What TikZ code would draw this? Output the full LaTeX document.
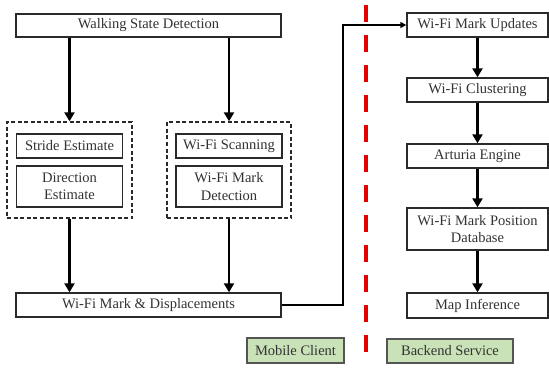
\documentclass[tikz,border=0pt]{standalone}
\usepackage{fontspec}
\setmainfont{Liberation Serif}
\usetikzlibrary{arrows.meta}
\definecolor{txt}{HTML}{333333}
\definecolor{bord}{HTML}{2A2A2A}
\definecolor{grn}{HTML}{C9E2B8}
\begin{document}
\begin{tikzpicture}[x=1pt,y=-1pt,
  font=\fontsize{14.5}{17.5}\selectfont,
  boxx/.style={draw=bord,line width=1.4pt,fill=white,text=txt,inner sep=0pt,align=center,minimum width=#1},
  grp/.style={draw=bord,line width=1.4pt,dash pattern=on 4pt off 2.5pt,inner sep=0pt,minimum width=#1},
  tag/.style={draw=bord!80,line width=1.2pt,fill=grn,text=txt,inner sep=0pt,minimum width=#1},
  flow/.style={line width=2.6pt,draw=black,-{Triangle[length=9pt,width=10pt]}},
  link/.style={line width=1.5pt,draw=black,-{Triangle[length=6pt,width=6pt]}}]
\useasboundingbox (0,0) rectangle (549,369);
% divider
\draw[red!90!black,line width=3.6pt,dash pattern=on 17pt off 13pt] (366,5) -- (366,358);
% left
\node[boxx=265pt,minimum height=23pt] (walk) at (148.5,25.5) {Walking State Detection};
\node[grp=125pt,minimum height=96pt] (gl) at (69.5,170) {};
\node[grp=124pt,minimum height=96pt] (gr) at (229,170) {};
\node[boxx=106pt,minimum height=24pt] (stride) at (69.5,146) {Stride Estimate};
\node[boxx=106pt,minimum height=41pt] (dir) at (69.5,186.5) {Direction\\Estimate};
\node[boxx=106pt,minimum height=24pt] (scan) at (229,146) {Wi-Fi Scanning};
\node[boxx=106pt,minimum height=41pt] (mark) at (229,186.5) {Wi-Fi Mark\\Detection};
\node[boxx=265pt,minimum height=24pt] (disp) at (148.5,305) {Wi-Fi Mark \& Displacements};
% right
\node[boxx=141pt,minimum height=24pt] (upd) at (477.5,25) {Wi-Fi Mark Updates};
\node[boxx=141pt,minimum height=24pt] (clu) at (477.5,90) {Wi-Fi Clustering};
\node[boxx=141pt,minimum height=24pt] (art) at (477.5,156) {Arturia Engine};
\node[boxx=141pt,minimum height=42pt] (db) at (477.5,229) {Wi-Fi Mark Position\\Database};
\node[boxx=141pt,minimum height=25pt] (map) at (477.5,305.5) {Map Inference};
% tags
\node[tag=97pt,minimum height=25pt] (mc) at (295.5,350.5) {Mobile Client};
\node[tag=126pt,minimum height=24pt] (bs) at (450,351) {Backend Service};
% arrows
\draw[flow] (walk.south -| gl.north) -- (gl.north);
\draw[flow] (walk.south -| gr.north) -- (gr.north);
\draw[flow] (gl.south) -- (disp.north -| gl.south);
\draw[flow] (gr.south) -- (disp.north -| gr.south);
\coordinate (turn) at (343,0);
\draw[link] (disp.east) -- (disp.east -| turn) |- (upd.west);
\draw[flow] (upd) -- (clu);
\draw[flow] (clu) -- (art);
\draw[flow] (art) -- (db);
\draw[flow] (db) -- (map);
\end{tikzpicture}
\end{document}
